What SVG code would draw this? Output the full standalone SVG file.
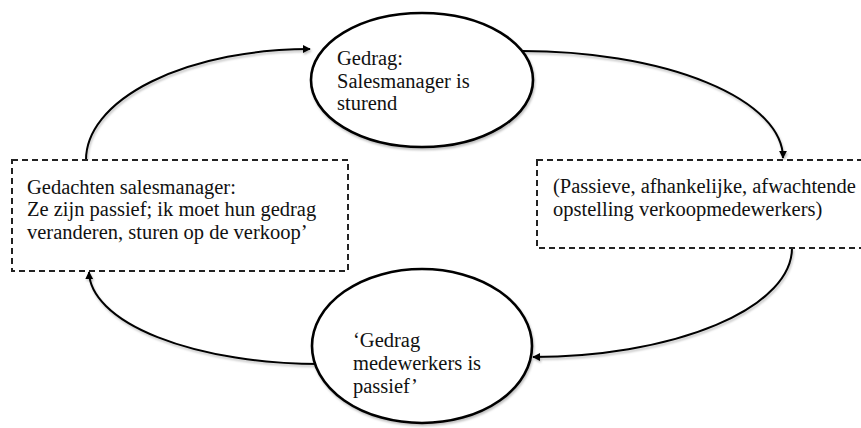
<svg xmlns="http://www.w3.org/2000/svg" width="861" height="428" viewBox="0 0 861 428">
  <style>
    .lbl { font-family: "Liberation Serif", "Times New Roman", serif; font-size: 20.5px; fill: #111; }
    .oval { fill: #fff; stroke: #000; stroke-width: 2.6; filter: url(#shadow); }
    .box { fill: #fff; stroke: #222; stroke-width: 2; stroke-dasharray: 6 4; }
    .arc { fill: none; stroke: #000; stroke-width: 2; marker-end: url(#tip); filter: url(#shadow); }
  </style>
  <defs>
    <marker id="tip" viewBox="0 0 10 10" refX="9" refY="5" markerWidth="8" markerHeight="8" markerUnits="userSpaceOnUse" orient="auto">
      <path d="M0,0 L10,5 L0,10 Z" fill="#000"/>
    </marker>
    <filter id="shadow" x="-10%" y="-10%" width="120%" height="130%">
      <feDropShadow dx="1" dy="2" stdDeviation="1" flood-color="#000" flood-opacity="0.25"/>
    </filter>
  </defs>

  <rect width="861" height="428" fill="#fff"/>

  <!-- connectors -->
  <g id="connectors">
    <path class="arc" d="M86,160 A224,111 0 0 1 310,49"/>
    <path class="arc" d="M522,51 A261,107 0 0 1 783,158"/>
    <path class="arc" d="M792,248 A260,109 0 0 1 533,357"/>
    <path class="arc" d="M320,364 A231,93 0 0 1 89,272"/>
  </g>

  <!-- top: behaviour of the sales manager -->
  <g id="gedrag-manager">
    <ellipse class="oval" cx="422" cy="80" rx="111" ry="67"/>
    <text class="lbl" x="337" y="65">Gedrag:</text>
    <text class="lbl" x="337" y="88">Salesmanager is</text>
    <text class="lbl" x="337" y="110">sturend</text>
  </g>

  <!-- right: attitude of the sales staff -->
  <g id="opstelling">
    <rect class="box" x="537" y="160" width="340" height="88"/>
    <text class="lbl" x="553" y="193">(Passieve, afhankelijke, afwachtende</text>
    <text class="lbl" x="553" y="216">opstelling verkoopmedewerkers)</text>
  </g>

  <!-- bottom: behaviour of the sales staff -->
  <g id="gedrag-medewerkers">
    <ellipse class="oval" cx="422" cy="346" rx="110" ry="77"/>
    <text class="lbl" x="353" y="347">‘Gedrag</text>
    <text class="lbl" x="353" y="370">medewerkers is</text>
    <text class="lbl" x="353" y="393">passief’</text>
  </g>

  <!-- left: thoughts of the sales manager -->
  <g id="gedachten">
    <rect class="box" x="12" y="160" width="336" height="111"/>
    <text class="lbl" x="27" y="194">Gedachten salesmanager:</text>
    <text class="lbl" x="27" y="216">Ze zijn passief; ik moet hun gedrag</text>
    <text class="lbl" x="27" y="239">veranderen, sturen op de verkoop’</text>
  </g>
</svg>
